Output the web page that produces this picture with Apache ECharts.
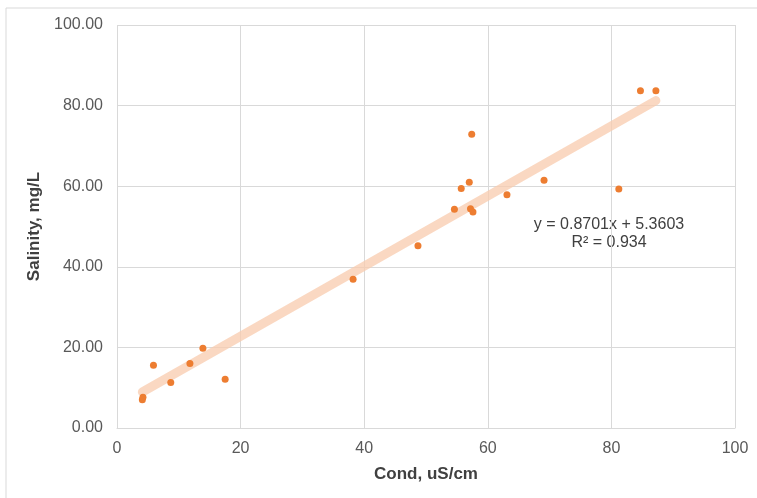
<!DOCTYPE html>
<html lang="en">

<head>
    <meta charset="UTF-8">
    <script src="https://cdn.jsdelivr.net/npm/echarts@6/dist/echarts.min.js"></script>
    <style>
        html, body {
            margin: 0;
            padding: 0;
            background-color: #ffffff;
        }
    </style>
</head>

<body>
    <div id="main" style="width: 757px;height:498px;"></div>
    <script type="text/javascript">
        // values
        const cond = [4.1, 4.2, 5.9, 8.7, 11.8, 13.9, 17.5, 38.2, 48.7, 54.6, 55.7, 57.0, 57.4, 57.2, 57.6, 63.1, 69.1, 81.2, 84.7, 87.2];
        const salinity = [7.0, 7.6, 15.6, 11.3, 16.0, 19.8, 12.1, 36.9, 45.2, 54.3, 59.4, 61.0, 72.9, 54.4, 53.6, 57.9, 61.5, 59.3, 83.7, 83.7];
        const slope = 0.8701;
        const intercept = 5.3603;
        const xTicks = [0, 20, 40, 60, 80, 100];
        const yTicks = [0, 20, 40, 60, 80, 100];

        const points = cond.map((c, i) => [c, salinity[i]]);
        const xMin = Math.min(...cond), xMax = Math.max(...cond);
        const trend = [[xMin, slope * xMin + intercept], [xMax, slope * xMax + intercept]];

        var myChart = echarts.init(document.getElementById('main'));
        const font = 'Liberation Sans, Arial, sans-serif';
        myChart.setOption({
            animation: false,
            textStyle: { fontFamily: font },
            grid: { left: 117, right: 22, top: 25, bottom: 70 },
            graphic: [{
                type: 'rect',
                shape: { x: 6, y: 8, width: 800, height: 600 },
                style: { fill: 'none', stroke: '#d9d9d9', lineWidth: 1 },
                silent: true
            }, {
                type: 'text',
                x: 609, y: 216,
                style: {
                    text: 'y = ' + slope.toFixed(4) + 'x + ' + intercept.toFixed(4) + '\nR² = 0.934',
                    align: 'center',
                    verticalAlign: 'top',
                    font: '16px ' + font,
                    fill: '#404040',
                    lineHeight: 18
                }
            }],
            xAxis: {
                type: 'value',
                min: xTicks[0], max: xTicks[xTicks.length - 1], interval: 20,
                name: 'Cond, uS/cm',
                nameLocation: 'middle',
                nameGap: 38,
                nameTextStyle: { fontWeight: 'bold', fontSize: 17, color: '#404040' },
                axisLine: { show: true, lineStyle: { color: '#d9d9d9' } },
                axisTick: { show: false },
                axisLabel: { fontSize: 16, color: '#595959', margin: 13 },
                splitLine: { lineStyle: { color: '#d9d9d9' } }
            },
            yAxis: {
                type: 'value',
                min: yTicks[0], max: yTicks[yTicks.length - 1], interval: 20,
                name: 'Salinity, mg/L',
                nameLocation: 'middle',
                nameGap: 48,
                nameTextStyle: { fontWeight: 'bold', fontSize: 17, color: '#404040' },
                axisLine: { show: false },
                axisTick: { show: false },
                axisLabel: { fontSize: 16, color: '#595959', margin: 14, formatter: v => v.toFixed(2) },
                splitLine: { lineStyle: { color: '#d9d9d9' } }
            },
            series: [{
                type: 'line',
                data: trend,
                symbol: 'none',
                lineStyle: { color: '#f8cbad', width: 9, opacity: 0.75, cap: 'round' },
                z: 1
            }, {
                type: 'scatter',
                data: points,
                symbolSize: 7,
                itemStyle: { color: '#ed7d31', opacity: 1 },
                z: 2
            }]
        });
    </script>
</body>

</html>
